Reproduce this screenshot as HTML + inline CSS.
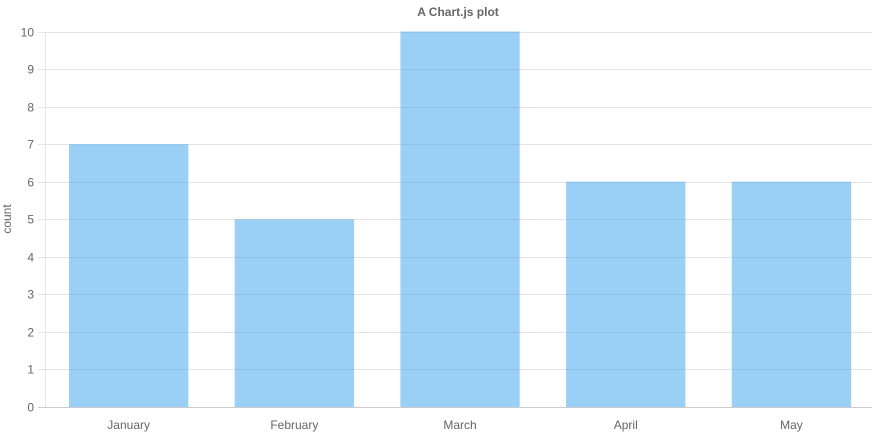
<!DOCTYPE html>
<html><head><meta charset="utf-8"><style>
html,body{margin:0;padding:0;background:#fff;}
svg{display:block;font-family:"Liberation Sans",Arial,sans-serif;}
</style></head><body>
<svg id="chart" width="872" height="443" xmlns="http://www.w3.org/2000/svg">
<text x="458" y="16" text-anchor="middle" font-size="12" font-weight="bold" fill="#666">A Chart.js plot</text>
<text transform="translate(11,219) rotate(-90)" text-anchor="middle" font-size="12" fill="#666">count</text>
<g id="grid"></g><g id="bars"></g><g id="labels"></g>
</svg>
<script>
const categories = ["January","February","March","April","May"];
const values = [7,5,10,6,6];
const yTicks = [0,1,2,3,4,5,6,7,8,9,10];
const L=45.8,R=874.3,T=31.5,B=407,yMax=10;
const y=v=>B-(B-T)*v/yMax;
const band=(R-L)/categories.length;
const x=i=>L+band*i;
const NS="http://www.w3.org/2000/svg";
const grid=document.getElementById('grid'),bars=document.getElementById('bars'),labels=document.getElementById('labels');
function mk(tag,attrs,parent){const e=document.createElementNS(NS,tag);for(const k in attrs)e.setAttribute(k,attrs[k]);parent.appendChild(e);return e;}
yTicks.forEach(t=>{
  const yy=Math.round(y(t))+0.5;
  const g=mk('line',{x1:38,x2:872,y1:yy,y2:yy,stroke:t===0?'#ccc':'#e5e5e5','stroke-width':1},grid);
  
  
  const tx=mk('text',{x:34,y:yy+4,'text-anchor':'end','font-size':12,fill:'#666'},labels);
  tx.textContent=t;
  
  
});
const ax=mk('line',{x1:45.5,x2:45.5,y1:T,y2:B,stroke:'#e5e5e5'},grid);


categories.forEach((c,i)=>{
  const w=band*0.72, cx=x(i)+band/2;
  const r=mk('rect',{x:cx-w/2,y:y(values[i]),width:w,height:B-y(values[i]),fill:'rgba(54,162,235,0.5)'},bars);
  
  
  const tx=mk('text',{x:cx,y:429,'text-anchor':'middle','font-size':12,fill:'#666'},labels);
  tx.textContent=c;
  
  
});
</script>
</body></html>
